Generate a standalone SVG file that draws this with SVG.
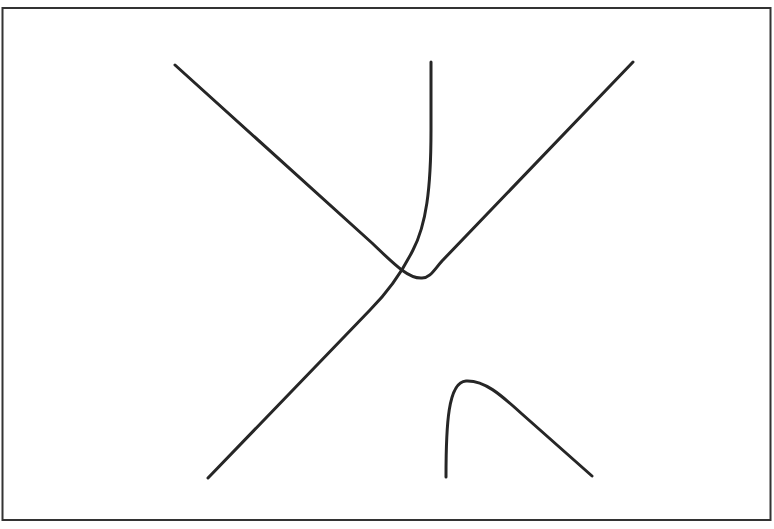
<svg xmlns="http://www.w3.org/2000/svg" width="774" height="529" viewBox="0 0 774 529">
<style>
.c{fill:none;stroke:#262626;stroke-width:3;stroke-linejoin:round;stroke-linecap:round}
.f{fill:none;stroke:#333;stroke-width:2}
</style>
<rect width="774" height="529" fill="#fff"/>
<rect class="f" x="2.5" y="8" width="768" height="512"/>
<g id="curves">
<path class="c" d="M175,65 L372,243 C392,262 408,279 422,278 C430,278 434,270 442,261 L633,62"/>
<path class="c" d="M431,62 L431,130 C431,190 426,225 413,250 C402,272 388,292 370,310 L208,478"/>
<path class="c" d="M446,477 C446,425 448,382 466,381 C484,380 500,394 522,414 L592,476"/>
</g>
</svg>
